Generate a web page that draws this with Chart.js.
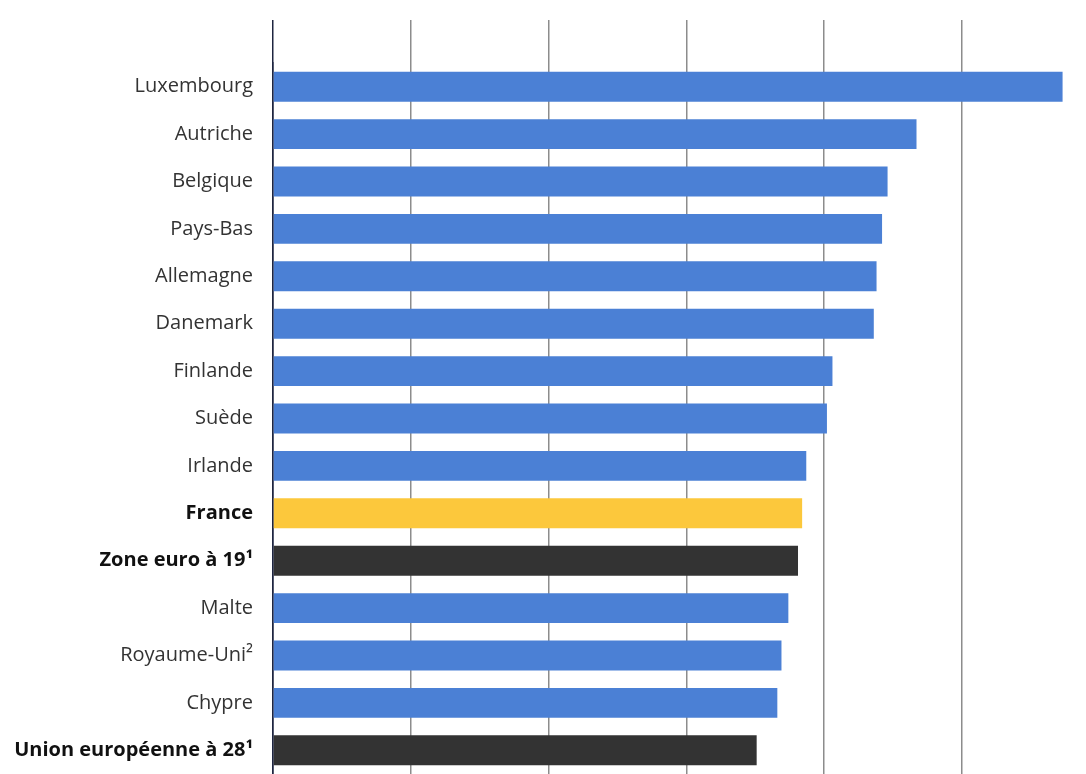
<!DOCTYPE html>
<html>
<head>
<meta charset="utf-8">
<script src="https://cdn.jsdelivr.net/npm/chart.js@4"></script>
<style>
  html, body { margin: 0; padding: 0; background: #fff; overflow: hidden; }
  canvas { display: block; }
</style>
</head>
<body>
<canvas id="barChart" width="1086" height="774"></canvas>
<script>
const countries = ['Luxembourg', 'Autriche', 'Belgique', 'Pays-Bas', 'Allemagne', 'Danemark',
  'Finlande', 'Suède', 'Irlande', 'France', 'Zone euro à 19¹', 'Malte', 'Royaume-Uni²',
  'Chypre', 'Union européenne à 28¹'];
const values = [57.3, 46.7, 44.6, 44.2, 43.8, 43.6, 40.6, 40.2, 38.7, 38.4, 38.1, 37.4, 36.9, 36.6, 35.1];
const boldLabels = ['France', 'Zone euro à 19¹', 'Union européenne à 28¹'];

function barColor(label) {
    if (label === 'France') return '#fcc83c';
    if (boldLabels.includes(label)) return '#333333';
    return '#4b80d5';
}

const ctx = document.getElementById('barChart').getContext('2d');

new Chart(ctx, {
    type: 'bar',
    data: {
        labels: countries,
        datasets: [{
            data: values,
            backgroundColor: countries.map(barColor),
            barPercentage: 0.63,
            categoryPercentage: 1
        }]
    },
    options: {
        indexAxis: 'y',
        responsive: false,
        animation: false,
        layout: { padding: { top: 20, right: 0, bottom: 0, left: 0 } },
        plugins: {
            legend: { display: false },
            tooltip: { enabled: false }
        },
        scales: {
            x: {
                position: 'top',
                min: 0,
                max: 59,
                ticks: { display: false, stepSize: 10 },
                border: { display: false },
                grid: {
                    drawTicks: true,
                    tickLength: 43,
                    lineWidth: 1.5,
                    color: c => {
                        if (c.tick.value === 0) return '#1e2540';
                        return c.tick.value % 10 === 0 ? '#8c8c8c' : 'rgba(0,0,0,0)';
                    }
                }
            },
            y: {
                // fixed width, and no extra room for the first/last labels
                afterFit: scale => {
                    scale.width = 273;
                    scale.paddingTop = 0;
                    scale.paddingBottom = 0;
                },
                border: { display: true, color: '#1e2540', width: 1.5 },
                grid: { display: false, drawTicks: false },
                ticks: {
                    padding: 20,
                    color: c => boldLabels.includes(countries[c.index]) ? '#111111' : '#333333',
                    font: c => ({
                        family: '"Open Sans", sans-serif',
                        size: 20,
                        weight: boldLabels.includes(countries[c.index]) ? 'bold' : 'normal'
                    })
                }
            }
        }
    }
});
</script>
</body>
</html>
